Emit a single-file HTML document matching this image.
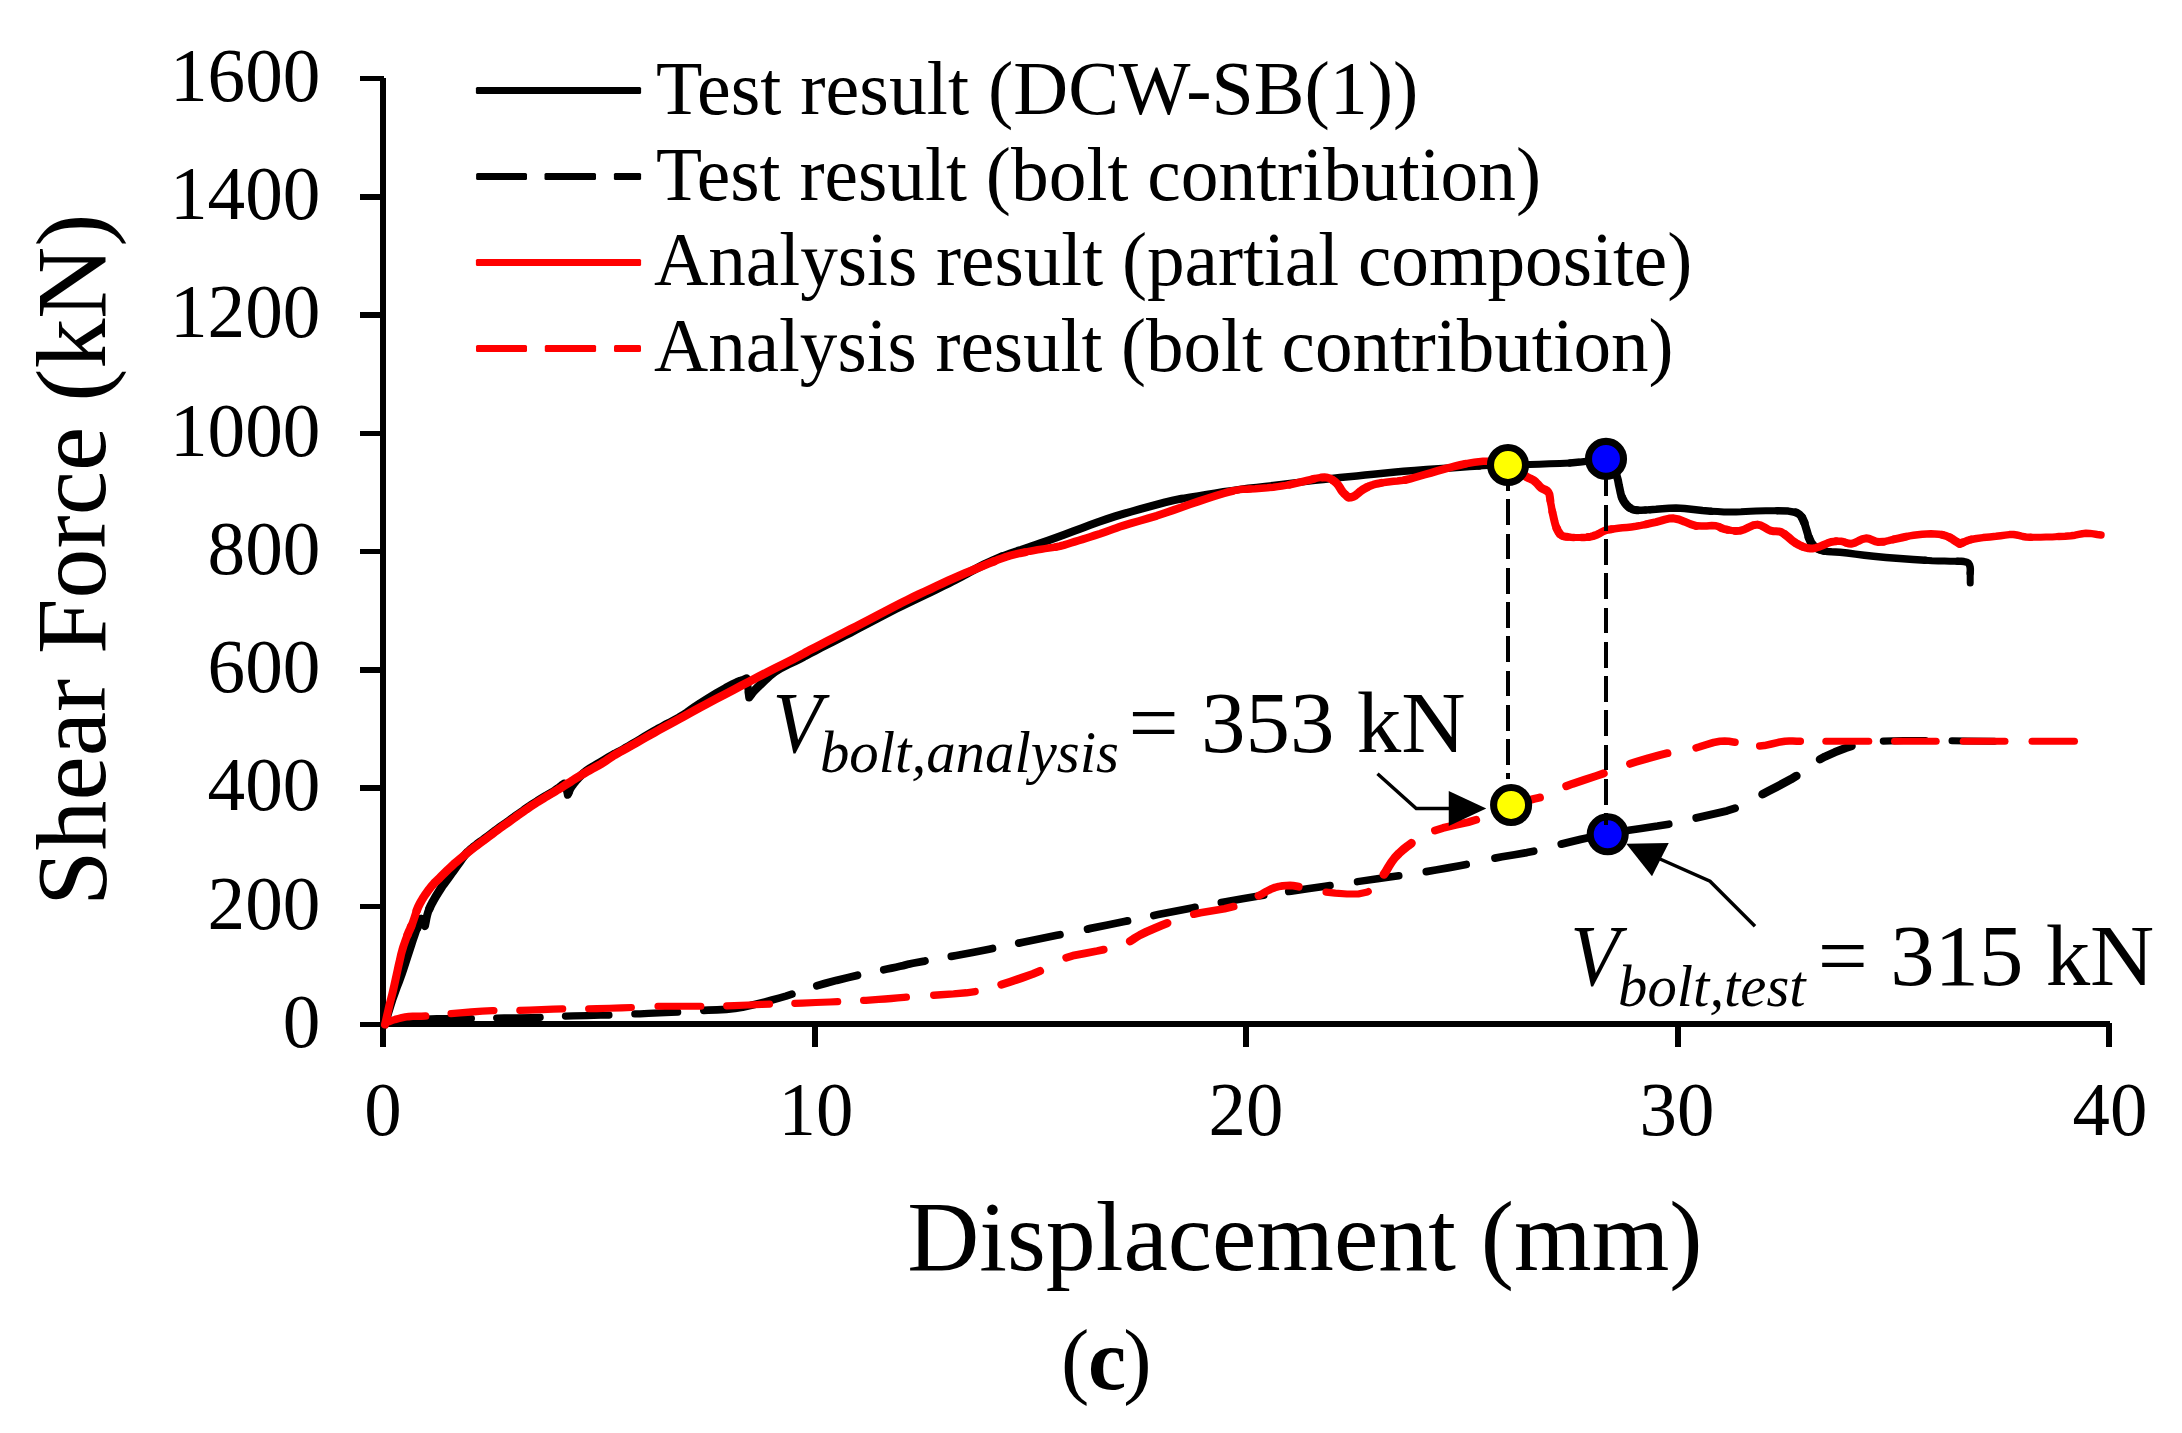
<!DOCTYPE html>
<html lang="en"><head><meta charset="utf-8"><title>Shear Force - Displacement (c)</title>
<style>html,body{margin:0;padding:0;background:#fff;}body{width:2182px;height:1433px;overflow:hidden;}svg{display:block;}text{font-family:'Liberation Serif', 'Times New Roman', serif;fill:#000;}</style>
</head><body>
<svg width="2182" height="1433" viewBox="0 0 2182 1433">
<rect x="0" y="0" width="2182" height="1433" fill="#ffffff"/>
<g fill="#000" shape-rendering="crispEdges">
<rect x="380" y="78" width="6" height="969"/>
<rect x="380" y="1021" width="1730" height="6"/>
<rect x="360" y="1021.8" width="24" height="5.5"/>
<rect x="360" y="903.5" width="24" height="5.5"/>
<rect x="360" y="785.2" width="24" height="5.5"/>
<rect x="360" y="667.0" width="24" height="5.5"/>
<rect x="360" y="548.8" width="24" height="5.5"/>
<rect x="360" y="430.5" width="24" height="5.5"/>
<rect x="360" y="312.2" width="24" height="5.5"/>
<rect x="360" y="194.0" width="24" height="5.5"/>
<rect x="360" y="75.7" width="24" height="5.5"/>
<rect x="811.5" y="1023" width="6" height="24"/>
<rect x="1243.0" y="1023" width="6" height="24"/>
<rect x="1674.5" y="1023" width="6" height="24"/>
<rect x="2106.0" y="1023" width="6" height="24"/>
</g>
<g fill="none" stroke-linejoin="round" stroke-linecap="round">
<g stroke="#000">
<polyline points="385.0,1024.5 386.8,1018.4 388.5,1012.2 390.4,1006.1 392.3,1000.0 394.5,993.8 396.8,987.5 399.2,981.3 401.5,975.0 403.6,968.7 405.7,962.3 407.7,956.0 409.7,950.0 411.3,945.0 412.9,940.1 414.5,935.4 416.0,931.0 417.3,927.8" stroke-width="8.0"/>
<polyline points="417.3,927.8 418.5,924.8 419.8,921.9 421.0,919.0" stroke-width="8.5"/>
<polyline points="421.0,919.0 425.0,926.0 425.7,922.4 426.4,918.7 427.2,915.1 428.2,911.7 429.4,908.7" stroke-width="8.0"/>
<polyline points="429.4,908.7 430.7,905.8 432.2,902.9 433.8,900.0 435.7,896.7 437.8,893.2 439.9,889.9 442.0,886.7 443.8,884.1 445.6,881.7 447.4,879.2 449.2,876.7 451.3,873.7 453.6,870.6 455.8,867.5 458.0,864.5 460.0,861.7 462.0,858.9 463.9,856.3 466.0,853.8 467.9,851.8 469.8,850.1 471.9,848.4 474.0,846.6 476.7,844.5 479.7,842.3 482.7,840.2 485.6,838.0 488.5,835.8 491.3,833.7 494.1,831.5 497.0,829.4 499.9,827.3 502.8,825.2 505.7,823.2 508.6,821.1 511.5,819.0 514.3,817.0 517.1,814.9 520.0,812.9 522.9,810.9 525.8,808.8 528.7,806.8 531.6,804.9 534.4,803.1 537.3,801.2 540.1,799.5 543.0,797.7 545.9,795.9 548.9,794.2 551.9,792.5 554.7,790.7 557.1,789.0 559.4,787.3 561.7,785.5 564.0,783.8 565.2,785.8 566.3,788.0" stroke-width="8.5"/>
<polyline points="566.3,788.0 566.8,789.6 567.1,791.3 567.5,793.1 567.8,794.8 568.6,792.4" stroke-width="8.0"/>
<polyline points="568.6,792.4 569.5,790.0 570.2,788.6 571.0,787.3 572.0,785.9 573.0,784.5 574.5,782.5 576.2,780.4 578.1,778.3 580.0,776.3 581.9,774.5 583.9,772.9 585.9,771.3 588.0,769.8 590.1,768.4 592.1,767.2 594.3,765.9 596.7,764.5 600.3,762.3 604.4,759.9 608.4,757.5 612.0,755.4 614.1,754.2 616.0,753.3 617.9,752.3 620.0,751.2 622.9,749.6 626.0,747.8 629.3,746.0 632.6,744.0 636.6,741.6 640.8,739.0 645.1,736.3 649.3,733.8 653.5,731.4 657.6,729.1 661.8,726.9 666.0,724.6 670.2,722.4 674.3,720.2 678.5,717.9 682.6,715.5 686.8,712.7 690.9,709.8 695.2,706.7 700.0,703.5 707.9,698.6 716.8,693.2 725.7,688.1 733.3,684.0 737.0,682.2 740.3,680.9" stroke-width="8.5"/>
<polyline points="740.3,680.9 743.5,679.6 746.7,678.3 747.0,680.7 747.4,683.2" stroke-width="8.0"/>
<polyline points="747.4,683.2 747.7,685.6 748.0,688.0 748.3,690.4 748.6,692.8" stroke-width="7.5"/>
<polyline points="748.6,692.8 748.9,695.1 749.2,697.5 750.1,696.1 751.0,694.7" stroke-width="8.0"/>
<polyline points="751.0,694.7 752.0,693.3 753.0,692.0 754.2,690.7 755.4,689.5 756.7,688.2 758.3,686.7 761.7,683.4 765.7,679.5 770.2,675.4 775.0,671.7 781.0,668.0 787.8,664.5 794.4,661.4 800.0,658.6 802.7,657.2 805.0,655.9 807.3,654.7 810.0,653.3 815.1,650.7 820.9,647.6 827.0,644.5 833.0,641.4 838.8,638.4 844.6,635.5 850.3,632.6 856.1,629.6 861.8,626.6 867.6,623.6 873.3,620.6 879.0,617.6 884.8,614.6 890.5,611.6 896.3,608.6 902.1,605.7 907.8,602.9 913.5,600.1 919.3,597.4 925.0,594.6 930.9,591.8 937.0,588.9 942.8,586.0 948.2,583.4 951.9,581.5 955.4,579.7 958.7,578.0 962.0,576.2 965.2,574.5 968.4,572.7 971.6,571.0 975.0,569.2 979.6,566.9 984.5,564.4 989.5,562.0 994.3,559.8 998.3,558.1 1002.2,556.5" stroke-width="8.5"/>
<polyline points="1002.2,556.5 1006.1,555.0 1010.0,553.6 1013.8,552.2 1017.5,550.9 1021.3,549.7 1025.0,548.4 1028.6,547.2 1032.1,546.0 1035.8,544.8 1040.0,543.4 1047.4,540.8 1055.8,537.7 1064.7,534.5 1073.3,531.3 1081.6,528.2 1090.0,525.1 1098.3,522.0 1106.7,519.1 1115.0,516.4 1123.3,513.9 1131.7,511.5 1140.0,509.2 1148.3,506.9 1156.6,504.6 1164.9,502.4 1173.3,500.4 1181.6,498.7" stroke-width="8.0"/>
<polyline points="1181.6,498.7 1190.0,497.2 1198.3,495.9 1206.7,494.5 1215.0,493.1 1223.3,491.8 1231.7,490.6 1240.0,489.4 1248.3,488.3 1256.6,487.4 1265.0,486.5 1273.3,485.5 1281.6,484.5 1290.0,483.4 1298.4,482.4 1306.7,481.4 1315.0,480.4 1323.4,479.5 1331.7,478.5 1340.0,477.6 1348.4,476.7 1356.7,475.9 1365.1,475.0 1373.3,474.2 1380.8,473.4 1388.2,472.7 1395.7,472.0 1403.7,471.3 1414.7,470.4 1426.5,469.6 1438.5,468.8 1450.0,468.0 1459.9,467.3 1469.7,466.6 1479.0,466.0" stroke-width="7.5"/>
<polyline points="1479.0,466.0 1487.5,465.5 1493.0,465.3 1498.1,465.2 1503.0,465.1 1508.0,465.0 1513.3,464.9 1518.5,464.8 1524.0,464.7 1530.0,464.5 1539.2,464.2 1549.4,463.8 1559.9,463.4 1570.0,463.0" stroke-width="7.0"/>
<polyline points="1570.0,463.0 1579.9,462.1 1590.1,460.9 1599.3,460.3" stroke-width="7.5"/>
<polyline points="1599.3,460.3 1606.0,461.0 1608.0,461.9 1609.5,463.0 1610.8,464.4 1612.0,466.0" stroke-width="8.0"/>
<polyline points="1612.0,466.0 1613.5,468.4 1614.9,471.2 1616.1,474.2" stroke-width="8.5"/>
<polyline points="1616.1,474.2 1617.1,477.1 1617.9,479.8 1618.4,482.5 1618.9,485.2 1619.5,487.8 1620.0,490.3 1620.5,492.7 1621.1,495.0 1621.9,497.3" stroke-width="8.0"/>
<polyline points="1621.9,497.3 1622.8,499.4 1623.9,501.4 1625.2,503.3 1626.6,505.0 1628.1,506.5 1629.7,507.8" stroke-width="8.5"/>
<polyline points="1629.7,507.8 1631.6,508.9 1633.7,509.7 1637.2,510.3" stroke-width="8.0"/>
<polyline points="1637.2,510.3 1641.1,510.2 1645.5,510.0" stroke-width="7.5"/>
<polyline points="1645.5,510.0 1650.0,509.7" stroke-width="7.0"/>
<polyline points="1650.0,509.7 1656.0,509.3 1662.4,508.7 1669.1,508.2 1676.0,508.0 1684.5,508.5 1693.5,509.4 1702.5,510.5 1711.0,511.3" stroke-width="7.5"/>
<polyline points="1711.0,511.3 1717.6,511.6 1723.9,511.9 1730.0,512.0 1736.0,512.0 1741.0,511.8 1745.7,511.5 1750.6,511.2 1756.0,511.0 1765.9,510.8 1777.4,510.7" stroke-width="7.0"/>
<polyline points="1777.4,510.7 1788.3,511.1 1796.0,512.5" stroke-width="7.5"/>
<polyline points="1796.0,512.5 1798.0,513.4 1799.5,514.5 1800.7,515.8 1802.0,517.5" stroke-width="8.0"/>
<polyline points="1802.0,517.5 1804.4,522.8" stroke-width="8.5"/>
<polyline points="1804.4,522.8 1806.6,530.0 1808.7,537.2" stroke-width="8.0"/>
<polyline points="1808.7,537.2 1811.0,542.5 1812.2,544.2 1813.3,545.4 1814.6,546.5 1816.0,547.5 1817.8,548.6 1819.7,549.5" stroke-width="8.5"/>
<polyline points="1819.7,549.5 1821.9,550.3 1824.2,551.0" stroke-width="8.0"/>
<polyline points="1824.2,551.0 1827.6,551.5 1831.4,551.8 1835.5,551.9 1840.0,552.2 1847.3,553.0 1855.5,554.1 1864.3,555.2 1873.5,556.2 1886.0,557.4 1899.7,558.5 1913.2,559.5 1925.0,560.3" stroke-width="7.5"/>
<polyline points="1925.0,560.3 1932.0,560.7 1938.5,560.9 1944.5,561.1 1950.0,561.3 1954.0,561.3 1957.8,561.3" stroke-width="7.0"/>
<polyline points="1957.8,561.3 1961.2,561.3 1964.0,561.6 1966.5,562.1 1968.3,563.0 1969.4,564.7 1970.1,567.0 1970.3,568.8 1970.3,570.8 1970.2,572.9" stroke-width="7.5"/>
<polyline points="1970.2,572.9 1970.2,575.0 1970.2,577.0 1970.2,579.0 1970.2,581.0 1970.2,583.0" stroke-width="7.0"/>
</g>
<g stroke="#000">
<polyline points="386.5,1023.7 387.2,1023.6 391.3,1022.6 395.5,1021.8 400.0,1021.0 405.7,1020.3 411.6,1019.8 418.0,1019.3 425.0,1019.0 436.9,1018.7 450.5,1018.6 463.9,1018.6 471.4,1018.5" stroke-width="7.2"/>
<polyline points="496.6,1018.0 504.3,1017.8 517.9,1017.7 531.6,1017.6 540.2,1017.4" stroke-width="7.1"/>
<polyline points="565.4,1016.1 573.4,1015.9 587.0,1015.6 600.6,1015.3 609.0,1015.1" stroke-width="7.1"/>
<polyline points="634.8,1013.9 635.3,1013.9 637.4,1013.8 640.0,1013.8 648.5,1013.4 659.6,1012.9 671.2,1012.4 677.7,1012.1" stroke-width="7.2"/>
<polyline points="703.8,1010.4 708.1,1010.2 717.0,1009.9 726.2,1009.4 735.0,1008.5 742.7,1007.2 750.3,1005.6 757.7,1003.8 765.0,1001.9 772.0,1000.0 779.0,998.1 785.9,996.1 791.9,994.2" stroke-width="7.7"/>
<polyline points="816.9,985.7 825.2,983.4 836.8,980.3 848.4,977.5 857.4,975.3" stroke-width="7.9"/>
<polyline points="883.8,969.7 887.1,969.0 891.6,968.1 895.9,967.2 900.0,966.3 903.1,965.6 905.9,964.9 908.9,964.1 912.8,963.3 924.5,961.1 924.9,961.0" stroke-width="7.8"/>
<polyline points="951.3,956.4 956.3,955.5 972.5,952.5 989.1,949.2 992.5,948.5" stroke-width="7.7"/>
<polyline points="1018.8,943.1 1023.0,942.2 1040.0,938.8 1056.9,935.3 1059.9,934.7" stroke-width="7.8"/>
<polyline points="1087.6,929.1 1090.6,928.4 1107.5,925.0 1124.4,921.5 1127.5,920.9" stroke-width="7.8"/>
<polyline points="1153.8,915.5 1158.1,914.6 1175.0,911.2 1191.9,908.0 1195.0,907.4" stroke-width="7.7"/>
<polyline points="1221.3,902.5 1225.7,901.7 1242.5,898.8 1258.8,896.1 1263.7,895.3" stroke-width="7.6"/>
<polyline points="1288.7,891.5 1291.1,891.2 1307.5,888.8 1325.2,886.2 1330.0,885.5" stroke-width="7.6"/>
<polyline points="1357.5,881.6 1361.0,881.1 1377.5,878.8 1389.7,877.0 1398.8,875.7" stroke-width="7.5"/>
<polyline points="1426.3,871.6 1435.7,870.0 1448.0,867.9 1459.7,865.8 1466.2,864.5" stroke-width="7.7"/>
<polyline points="1495.0,858.1 1502.0,856.8 1514.5,854.7 1526.9,852.6 1533.7,851.2" stroke-width="7.7"/>
<polyline points="1561.3,844.1 1568.3,842.4 1580.7,839.4 1594.0,836.5 1602.2,834.8" stroke-width="7.8"/>
<polyline points="1628.8,830.3 1641.0,828.5 1657.5,826.1 1668.8,824.2" stroke-width="7.6"/>
<polyline points="1696.3,817.9 1703.0,816.4 1715.1,813.7 1727.1,810.8 1735.0,808.3" stroke-width="7.9"/>
<polyline points="1762.5,794.3 1768.6,791.1 1779.8,785.2 1790.8,779.3 1796.4,775.9" stroke-width="8.5"/>
<polyline points="1819.9,759.3 1824.8,756.7 1834.9,752.2 1845.4,748.1 1851.6,746.1" stroke-width="8.3"/>
<polyline points="1883.3,741.1 1903.7,740.5 1925.5,740.5" stroke-width="7.1"/>
<polyline points="1952.0,740.8 1967.9,741.0 1994.5,741.2" stroke-width="7.0"/>
</g>
<g stroke="#ff0000">
<polyline points="385.0,1024.5 386.0,1020.1 387.0,1015.7 388.0,1011.4 389.0,1007.0 390.0,1002.8 391.1,998.6 392.2,994.3 393.2,990.0 394.3,985.1 395.4,980.1 396.5,975.0 397.6,970.0 398.7,964.9 399.9,959.8 401.0,954.8 402.3,950.0 403.5,946.0 404.8,942.2 406.1,938.6 407.5,935.0" stroke-width="8.0"/>
<polyline points="407.5,935.0 408.7,932.0 410.0,929.2 411.2,926.3" stroke-width="8.5"/>
<polyline points="411.2,926.3 412.5,923.3 413.9,919.3 415.3,915.0 416.7,910.7" stroke-width="8.0"/>
<polyline points="416.7,910.7 418.3,906.7 419.8,903.6 421.5,900.6 423.2,897.8 425.0,895.0 427.0,892.2 429.1,889.3 431.2,886.7 433.3,884.2 434.9,882.4 436.6,880.9 438.2,879.3 440.0,877.6 442.5,875.1 445.3,872.3 448.1,869.5 451.0,866.8 453.9,864.1 457.0,861.5 460.0,858.9 463.0,856.4 465.9,854.0 468.7,851.7 471.6,849.4 474.5,847.2 477.4,845.0 480.3,842.9 483.2,840.7 486.1,838.6 489.0,836.4 491.8,834.3 494.6,832.1 497.5,830.0 500.4,827.9 503.3,825.8 506.2,823.8 509.1,821.7 512.0,819.6 514.8,817.6 517.6,815.5 520.5,813.5 523.4,811.5 526.3,809.4 529.2,807.4 532.1,805.5 534.9,803.7 537.8,801.8 540.6,800.1 543.5,798.3 546.4,796.5 549.3,794.8 552.3,793.1 555.2,791.3 558.1,789.5 561.0,787.8 563.8,786.0 566.7,784.2 569.6,782.4 572.4,780.5 575.3,778.7 578.2,776.9 581.1,775.2 583.9,773.5 586.8,771.8 589.7,770.2 592.6,768.6 595.5,767.0 598.3,765.5 601.2,763.8 604.2,761.9 607.1,759.9 610.0,758.0 612.7,756.2 614.6,755.0 616.3,754.0 618.1,753.0 620.0,751.9 623.0,750.2 626.3,748.4 629.8,746.5 633.3,744.6 637.3,742.3 641.5,739.9 645.8,737.4 650.0,735.0 654.2,732.7 658.3,730.4 662.5,728.1 666.7,725.8 670.9,723.5 675.0,721.2 679.1,719.0 683.3,716.7 687.3,714.5 691.3,712.3 695.4,710.0 700.0,707.5 707.5,703.5 715.9,699.1 724.7,694.5 733.3,690.0 741.6,685.6 750.0,681.2 758.3,676.8 766.7,672.5 775.5,668.0 784.6,663.5 793.1,659.2 800.0,655.6 802.8,654.1 805.1,652.8 807.3,651.5 810.0,650.1 815.1,647.4 820.9,644.4 827.0,641.3 833.0,638.2 838.8,635.2 844.6,632.3 850.3,629.4 856.1,626.4 861.8,623.4 867.6,620.4 873.3,617.4 879.0,614.4 884.8,611.4 890.5,608.4 896.3,605.4 902.1,602.5 907.8,599.7 913.5,596.9 919.3,594.2 925.0,591.5 930.8,588.8 936.6,586.0 942.4,583.3 948.2,580.7 953.9,578.2 959.6,575.7 965.3,573.2 971.0,570.8 976.9,568.3 982.9,565.8 988.8,563.4 994.3,561.2" stroke-width="8.5"/>
<polyline points="994.3,561.2 998.4,559.6 1002.2,558.2 1006.0,556.9 1010.0,555.7 1014.9,554.4 1020.0,553.2 1025.1,552.2" stroke-width="8.0"/>
<polyline points="1025.1,552.2 1030.0,551.2 1033.9,550.5 1037.6,549.8 1041.3,549.2 1045.0,548.6 1048.8,548.0 1052.5,547.5 1056.3,546.9" stroke-width="7.5"/>
<polyline points="1056.3,546.9 1060.0,546.1 1063.8,545.1 1067.5,544.0 1071.3,542.8 1075.0,541.6 1078.7,540.5 1082.4,539.4 1086.1,538.2 1090.0,537.0 1094.9,535.4 1100.1,533.7 1105.2,531.9 1110.0,530.3 1113.4,529.1 1116.4,528.0 1119.6,526.8 1123.3,525.6 1130.6,523.4 1139.1,521.0 1148.0,518.4 1156.7,515.8 1165.0,513.0 1173.4,510.1 1181.7,507.2 1190.0,504.3 1198.6,501.4 1207.3,498.5 1215.8,495.8 1223.3,493.5 1228.0,492.2 1232.2,491.1" stroke-width="8.0"/>
<polyline points="1232.2,491.1 1236.2,490.2 1240.0,489.6 1242.6,489.3 1244.9,489.3 1247.3,489.2" stroke-width="7.5"/>
<polyline points="1247.3,489.2 1250.0,489.1" stroke-width="7.0"/>
<polyline points="1250.0,489.1 1255.2,488.8 1261.3,488.3 1267.5,487.8 1273.3,487.2 1277.7,486.6 1281.8,486.0 1285.9,485.4 1290.0,484.6" stroke-width="7.5"/>
<polyline points="1290.0,484.6 1294.2,483.7 1298.5,482.7 1302.7,481.7 1306.7,480.7 1310.2,479.8 1313.6,478.9" stroke-width="8.0"/>
<polyline points="1313.6,478.9 1316.9,478.1 1320.0,477.6 1322.2,477.4" stroke-width="7.5"/>
<polyline points="1322.2,477.4 1324.3,477.3 1326.3,477.5 1328.3,477.9 1330.5,478.8 1332.7,480.1" stroke-width="8.0"/>
<polyline points="1332.7,480.1 1334.8,481.6 1336.7,483.3 1338.3,485.2 1339.7,487.4 1341.1,489.7 1342.5,491.7 1343.9,493.3 1345.4,494.7 1346.8,496.1 1348.3,497.5 1350.7,497.3 1353.3,496.7 1355.6,495.3 1358.1,493.3 1360.7,491.1 1363.3,489.2 1365.7,487.9 1368.1,486.7" stroke-width="8.5"/>
<polyline points="1368.1,486.7 1370.6,485.6 1373.3,484.7 1377.2,483.7 1381.4,482.9" stroke-width="8.0"/>
<polyline points="1381.4,482.9 1385.8,482.3 1390.0,481.7 1393.8,481.3 1397.4,481.0 1401.1,480.6 1405.0,480.0" stroke-width="7.5"/>
<polyline points="1405.0,480.0 1409.8,478.9 1414.7,477.5 1419.8,476.0 1425.0,474.5 1431.1,472.8 1437.5,470.9 1443.9,469.1 1450.0,467.5 1455.2,466.2 1460.2,465.0 1465.1,463.9" stroke-width="8.0"/>
<polyline points="1465.1,463.9 1470.0,463.0 1474.4,462.3 1478.7,461.7 1483.1,461.3 1487.5,461.2 1492.6,461.6 1497.8,462.3" stroke-width="7.5"/>
<polyline points="1497.8,462.3 1503.0,463.4 1508.0,465.0" stroke-width="8.0"/>
<polyline points="1508.0,465.0 1513.1,467.6 1518.2,471.0 1522.9,474.4 1527.0,477.1 1529.0,478.1 1530.8,478.9 1532.4,479.7 1534.1,480.7 1535.9,482.3 1537.7,484.2 1539.4,486.1 1541.2,487.8 1543.0,488.9 1545.0,489.7 1546.8,490.7" stroke-width="8.5"/>
<polyline points="1546.8,490.7 1548.3,492.0 1549.4,494.3 1549.9,497.2 1550.3,500.2" stroke-width="8.0"/>
<polyline points="1550.3,500.2 1550.7,503.2 1551.3,506.1 1551.8,509.1 1552.4,512.1" stroke-width="7.5"/>
<polyline points="1552.4,512.1 1553.1,515.1 1553.8,518.4 1554.6,521.8 1555.5,525.2 1556.6,528.1" stroke-width="8.0"/>
<polyline points="1556.6,528.1 1557.6,530.2 1558.7,532.2 1559.9,534.0" stroke-width="8.5"/>
<polyline points="1559.9,534.0 1561.4,535.3 1563.0,536.1 1564.7,536.5 1566.6,536.8" stroke-width="8.0"/>
<polyline points="1566.6,536.8 1568.5,537.0 1571.0,537.3 1573.7,537.5" stroke-width="7.5"/>
<polyline points="1573.7,537.5 1576.5,537.6 1579.2,537.6 1581.6,537.6" stroke-width="7.0"/>
<polyline points="1581.6,537.6 1584.0,537.5 1586.3,537.3 1588.6,537.0" stroke-width="7.5"/>
<polyline points="1588.6,537.0 1590.8,536.6 1592.9,536.1 1594.9,535.4 1597.0,534.7 1599.0,533.7 1601.0,532.6 1603.1,531.4 1605.3,530.5 1608.3,529.7 1611.5,529.2" stroke-width="8.0"/>
<polyline points="1611.5,529.2 1614.8,528.7 1618.3,528.3 1622.5,527.8 1626.9,527.4 1631.4,526.9 1636.0,526.3 1641.0,525.4 1646.0,524.3" stroke-width="7.5"/>
<polyline points="1646.0,524.3 1651.1,523.1 1656.0,522.1 1660.4,520.9 1664.7,519.6 1669.0,518.6 1673.5,518.3 1679.0,519.5 1684.6,521.7 1690.4,524.2 1696.0,525.8" stroke-width="8.0"/>
<polyline points="1696.0,525.8 1701.3,526.1 1706.7,525.9 1711.7,525.5 1716.0,525.8 1718.1,526.4 1719.8,527.2" stroke-width="7.5"/>
<polyline points="1719.8,527.2 1721.5,528.1 1723.5,528.8 1727.1,529.7" stroke-width="8.0"/>
<polyline points="1727.1,529.7 1731.2,530.4 1735.5,530.9" stroke-width="7.5"/>
<polyline points="1735.5,530.9 1739.7,530.8 1744.2,529.5 1748.6,527.3 1753.0,525.3 1757.3,524.6 1760.9,525.4 1764.3,527.3 1767.7,529.3 1771.0,530.8 1773.6,531.2 1776.0,531.3 1778.5,531.4 1781.0,532.0 1784.6,534.2" stroke-width="8.0"/>
<polyline points="1784.6,534.2 1788.4,537.3 1792.2,540.6 1796.0,543.3 1799.2,545.0 1802.4,546.5" stroke-width="8.5"/>
<polyline points="1802.4,546.5 1805.6,547.6 1808.5,548.3 1810.4,548.5 1812.2,548.5 1814.0,548.2 1816.0,547.8 1819.5,546.7 1823.4,545.0 1827.3,543.3 1831.0,542.0 1833.6,541.6 1836.1,541.3" stroke-width="8.0"/>
<polyline points="1836.1,541.3 1838.5,541.2 1841.0,541.3 1843.5,541.8 1845.9,542.7" stroke-width="7.5"/>
<polyline points="1845.9,542.7 1848.4,543.5 1851.0,543.8 1854.6,542.9 1858.4,541.0 1862.3,539.2 1866.0,538.3 1869.1,538.8 1872.1,540.0 1875.2,541.3 1878.5,542.0 1883.2,541.8" stroke-width="8.0"/>
<polyline points="1883.2,541.8 1888.4,540.7 1893.6,539.4" stroke-width="7.5"/>
<polyline points="1893.6,539.4 1898.5,538.3 1902.4,537.5 1906.1,536.7" stroke-width="8.0"/>
<polyline points="1906.1,536.7 1909.7,535.9 1913.5,535.3 1917.8,534.7 1922.2,534.2 1926.7,533.9 1931.0,533.8 1934.9,533.9 1938.7,534.2 1942.4,534.8" stroke-width="7.5"/>
<polyline points="1942.4,534.8 1946.0,535.8 1949.6,537.4" stroke-width="8.0"/>
<polyline points="1949.6,537.4 1953.0,539.4 1956.4,541.7 1959.8,543.8 1962.4,542.7" stroke-width="8.5"/>
<polyline points="1962.4,542.7 1965.1,541.6 1967.8,540.5 1971.0,539.5" stroke-width="8.0"/>
<polyline points="1971.0,539.5 1976.6,538.5 1983.1,537.6 1989.8,536.9 1996.0,536.3 2000.7,535.7 2005.1,535.1 2009.4,534.6 2013.5,534.5 2016.7,535.0 2019.7,535.7 2022.7,536.5 2026.0,537.0 2030.6,537.3" stroke-width="7.5"/>
<polyline points="2030.6,537.3 2035.6,537.3 2040.7,537.2 2046.0,537.0 2052.2,536.9 2058.7,536.6" stroke-width="7.0"/>
<polyline points="2058.7,536.6 2065.1,536.3 2071.0,535.8 2075.0,535.2 2078.7,534.4 2082.3,533.7 2086.0,533.3 2089.7,533.4 2093.5,533.9 2097.2,534.5 2101.0,535.0" stroke-width="7.5"/>
</g>
<g stroke="#ff0000">
<polyline points="386.5,1022.6 388.9,1021.6 391.9,1020.5 395.0,1019.5 398.3,1018.6 401.7,1017.8 405.2,1017.1 408.8,1016.6 412.8,1016.3 417.1,1016.2 421.4,1016.2 425.6,1016.0" stroke-width="7.6"/>
<polyline points="451.1,1013.6 460.0,1012.9 471.1,1012.0 482.3,1011.2 492.5,1010.6 493.9,1010.6" stroke-width="7.3"/>
<polyline points="519.8,1010.4 529.5,1010.1 541.5,1009.6 553.3,1009.1 562.7,1008.8" stroke-width="7.2"/>
<polyline points="588.6,1008.7 596.8,1008.6 609.3,1008.2 621.7,1007.9 631.4,1007.5" stroke-width="7.1"/>
<polyline points="657.9,1006.3 665.6,1006.2 679.2,1006.2 692.7,1006.2 700.9,1006.2" stroke-width="7.0"/>
<polyline points="726.7,1005.9 734.4,1005.6 748.1,1005.0 761.7,1004.4 769.5,1004.1" stroke-width="7.2"/>
<polyline points="794.8,1003.4 802.3,1003.1 815.9,1002.5 829.6,1002.0 837.7,1001.6" stroke-width="7.2"/>
<polyline points="863.6,1000.4 866.0,1000.3 872.3,999.9 878.7,999.4 885.0,999.0 891.3,998.5 897.7,997.9 903.9,997.4 906.4,997.2" stroke-width="7.3"/>
<polyline points="933.7,995.2 940.9,994.7 953.6,993.9 966.4,992.8 975.1,991.6" stroke-width="7.4"/>
<polyline points="1001.4,984.6 1010.1,981.8 1021.5,978.0 1032.8,974.0 1040.0,971.0" stroke-width="8.2"/>
<polyline points="1066.2,957.7 1072.8,955.7 1084.9,953.3 1097.1,951.0 1103.7,949.6" stroke-width="7.8"/>
<polyline points="1130.0,941.2 1130.8,940.8 1133.6,938.9 1136.6,937.0 1140.0,935.0 1146.4,931.9 1153.9,928.6 1161.6,925.4 1167.3,923.1" stroke-width="8.4"/>
<polyline points="1193.8,914.2 1200.4,912.8 1212.5,910.8 1224.5,908.8 1233.7,906.6" stroke-width="7.7"/>
<polyline points="1258.5,895.7 1262.1,893.9 1266.4,891.4 1270.7,889.2 1275.0,887.5 1278.8,886.5 1282.6,885.9 1286.4,885.6 1290.0,885.5 1293.1,885.7 1296.1,886.2 1298.7,886.7" stroke-width="7.8"/>
<polyline points="1326.0,892.1 1335.3,893.1 1347.0,894.0 1358.3,894.0 1367.5,892.0 1368.3,891.5" stroke-width="7.1"/>
<polyline points="1383.8,874.5 1385.7,871.7 1388.6,866.8 1391.6,862.0 1395.0,857.5 1399.0,853.4 1403.3,849.5 1407.8,845.9 1411.5,843.2" stroke-width="8.7"/>
<polyline points="1435.0,830.5 1443.1,827.9 1455.6,825.0 1468.4,822.1 1476.2,819.8" stroke-width="7.9"/>
<polyline points="1501.6,808.8 1503.2,808.0 1510.5,805.0 1517.0,803.0 1523.6,801.4 1529.8,800.0 1535.0,798.7 1537.4,798.1 1539.5,797.6 1539.9,797.5" stroke-width="8.0"/>
<polyline points="1566.3,786.1 1572.5,783.8 1584.3,779.8 1596.1,776.0 1603.7,773.4" stroke-width="8.1"/>
<polyline points="1630.1,763.8 1636.3,761.8 1647.9,758.3 1659.6,755.1 1667.4,753.2" stroke-width="8.0"/>
<polyline points="1696.1,747.8 1699.3,746.9 1706.5,744.6 1713.5,742.5 1720.0,741.2 1724.6,741.1 1728.9,741.3 1733.1,741.9 1735.0,742.2" stroke-width="7.6"/>
<polyline points="1759.7,746.0 1764.2,745.6 1771.4,744.0 1778.4,742.3 1785.0,741.2 1789.2,741.0 1792.7,741.0 1796.7,741.2 1800.3,741.2" stroke-width="7.5"/>
<polyline points="1825.8,741.2 1847.7,741.2 1868.8,741.2" stroke-width="7.0"/>
<polyline points="1894.5,741.2 1918.3,741.2 1936.2,741.2" stroke-width="7.0"/>
<polyline points="1963.2,741.2 1998.9,741.2 2005.0,741.2" stroke-width="7.0"/>
<polyline points="2032.0,741.2 2074.5,741.2" stroke-width="7.0"/>
</g>
</g>
<g>
<rect x="475.9" y="87.0" width="165.2" height="7" rx="1.5" fill="#000"/>
<rect x="476.1" y="172.9" width="50.9" height="7" rx="1.5" fill="#000"/>
<rect x="544.5" y="172.9" width="51.5" height="7" rx="1.5" fill="#000"/>
<rect x="613.9" y="172.9" width="27.2" height="7" rx="1.5" fill="#000"/>
<rect x="475.9" y="259.1" width="165.2" height="7" rx="1.5" fill="#ff0000"/>
<rect x="476.0" y="345.0" width="51.0" height="7" rx="1.5" fill="#ff0000"/>
<rect x="544.8" y="345.0" width="51.3" height="7" rx="1.5" fill="#ff0000"/>
<rect x="614.0" y="345.0" width="27.0" height="7" rx="1.5" fill="#ff0000"/>
</g>

<g stroke="#000" stroke-width="7.1">
<circle cx="1511.1" cy="805" r="17.5" fill="#ffff00"/>
<circle cx="1607.7" cy="834.3" r="17.5" fill="#0000ff"/>
</g>
<g fill="none" stroke="#000" stroke-width="3.7" stroke-dasharray="25.7 8.56" shape-rendering="crispEdges">
<line x1="1508" y1="465.1" x2="1508" y2="778.7"/>
<line x1="1606.1" y1="470.6" x2="1606.1" y2="824.9"/>
</g>
<g stroke="#000" stroke-width="7.1">
<circle cx="1508" cy="465" r="17.5" fill="#ffff00"/>
<circle cx="1606" cy="458.9" r="17.5" fill="#0000ff"/>
</g>
<g fill="none" stroke="#000" stroke-width="3.5" stroke-linejoin="miter">
<polyline points="1377.5,773.75 1416.25,808.5 1450,808.5"/>
<polyline points="1755,926.25 1710,881.25 1660,859"/>
</g>
<g fill="#000">
<polygon points="1486.25,808.5 1448.75,791 1448.75,826"/>
<polygon points="1626.25,843.75 1668.75,843 1652,876.25"/>
</g>

<g>
<text font-size="76" transform="translate(282.85 1046.80) scale(0.9900 1)">0</text>
<text font-size="76" transform="translate(207.61 928.55) scale(0.9900 1)">200</text>
<text font-size="76" transform="translate(207.61 810.30) scale(0.9900 1)">400</text>
<text font-size="76" transform="translate(207.61 692.05) scale(0.9900 1)">600</text>
<text font-size="76" transform="translate(207.61 573.80) scale(0.9900 1)">800</text>
<text font-size="76" transform="translate(169.99 455.55) scale(0.9900 1)">1000</text>
<text font-size="76" transform="translate(169.99 337.30) scale(0.9900 1)">1200</text>
<text font-size="76" transform="translate(169.99 219.05) scale(0.9900 1)">1400</text>
<text font-size="76" transform="translate(169.99 100.80) scale(0.9900 1)">1600</text>
<text font-size="76" transform="translate(364.29 1134.60) scale(0.9850 1)">0</text>
<text font-size="76" transform="translate(778.50 1134.60) scale(0.9850 1)">10</text>
<text font-size="76" transform="translate(1208.57 1134.60) scale(0.9850 1)">20</text>
<text font-size="76" transform="translate(1639.58 1134.60) scale(0.9850 1)">30</text>
<text font-size="76" transform="translate(2072.55 1134.60) scale(0.9850 1)">40</text>
<text font-size="100" transform="translate(907.21 1269.70) scale(0.9981 1)">Displacement (mm)</text>
<text font-size="100" transform="translate(105.00 905.98) rotate(-90) scale(0.9977 1)">Shear Force (kN)</text>
<text font-size="76" transform="translate(655.90 114.10) scale(0.9993 1)">Test result (DCW-SB(1))</text>
<text font-size="76" transform="translate(655.91 200.20) scale(0.9928 1)">Test result (bolt contribution)</text>
<text font-size="76" transform="translate(653.91 284.90) scale(0.9900 1)">Analysis result (partial composite)</text>
<text font-size="76" transform="translate(653.91 371.00) scale(0.9881 1)">Analysis result (bolt contribution)</text>
<text font-size="87" font-style="italic" transform="translate(772.45 752.00) scale(0.9298 1)">V</text>
<text font-size="59" font-style="italic" transform="translate(819.90 771.50) scale(0.9976 1)">bolt,analysis</text>
<text font-size="87" transform="translate(1128.51 751.70) scale(1.0229 1)">= 353 kN</text>
<text font-size="87" font-style="italic" transform="translate(1570.37 985.20) scale(0.9263 1)">V</text>
<text font-size="59" font-style="italic" transform="translate(1618.11 1006.00) scale(0.9947 1)">bolt,test</text>
<text font-size="87" transform="translate(1817.81 984.90) scale(1.0217 1)">= 315 kN</text>
<text font-size="85"><tspan x="1060.90" y="1388.30">(</tspan><tspan x="1087.95" y="1389.00" font-size="86.0" font-weight="bold">c</tspan><tspan x="1123.20" y="1388.30">)</tspan></text>
</g>
</svg></body></html>
